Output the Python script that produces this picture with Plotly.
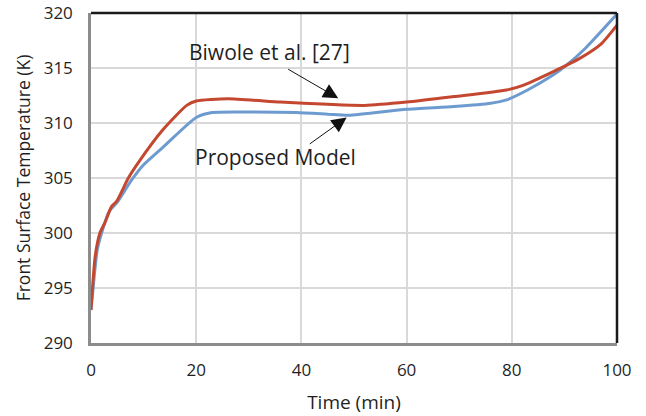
import plotly.graph_objects as go

t_biwole = [0, 0.8, 1.7, 2.7, 3.9, 4.9, 7.1, 9.0, 13.7, 18.2, 20, 26, 36, 45, 52, 60, 69, 79, 82, 88, 93, 97, 100]
T_biwole = [293.0, 297.9, 300.0, 301.0, 302.4, 302.9, 305.0, 306.4, 309.4, 311.6, 312.0, 312.2, 311.9, 311.7,
            311.6, 311.9, 312.4, 313.0, 313.4, 314.7, 315.9, 317.2, 318.9]

t_proposed = [0, 0.6, 1.2, 2.2, 3.5, 5, 7.7, 10, 13.7, 20, 23, 30, 39, 45, 49, 60, 69, 76, 79, 83, 88, 90, 94, 100]
T_proposed = [293.0, 296.0, 298.5, 300.3, 302.0, 302.8, 304.8, 306.2, 307.8, 310.5, 310.95, 311.0, 310.95, 310.8,
              310.7, 311.25, 311.5, 311.8, 312.1, 313.0, 314.4, 315.1, 316.8, 319.9]

x_ticks = [0, 20, 40, 60, 80, 100]
y_ticks = [290, 295, 300, 305, 310, 315, 320]

FONT = "Open Sans"
TXT = "#1f1f1f"

fig = go.Figure()
fig.add_trace(go.Scatter(x=t_proposed, y=T_proposed, mode="lines", name="Proposed Model",
                         line=dict(color="#6E9BCF", width=3, shape="spline", smoothing=0.6)))
fig.add_trace(go.Scatter(x=t_biwole, y=T_biwole, mode="lines", name="Biwole et al. [27]",
                         line=dict(color="#C4482F", width=3, shape="spline", smoothing=0.6)))

# labels
fig.add_annotation(x=34.0, y=316.45, text="Biwole et al. [27]", showarrow=False,
                   font=dict(family=FONT, size=21, color=TXT))
fig.add_annotation(x=35.0, y=306.9, text="Proposed Model", showarrow=False,
                   font=dict(family=FONT, size=21, color=TXT))
# arrows
fig.add_annotation(x=47.0, y=312.25, ax=37.2, ay=314.97, axref="x", ayref="y", xref="x", yref="y",
                   text="", showarrow=True, arrowhead=2, arrowsize=3, arrowwidth=1, arrowcolor="#111")
fig.add_annotation(x=48.6, y=310.5, ax=41.3, ay=308.0, axref="x", ayref="y", xref="x", yref="y",
                   text="", showarrow=True, arrowhead=2, arrowsize=3, arrowwidth=1, arrowcolor="#111")

# frame: top/right black
fig.add_shape(type="line", xref="paper", yref="paper", x0=0, x1=1, y0=1, y1=1,
              line=dict(color="#1a1a1a", width=2.5))
fig.add_shape(type="line", xref="paper", yref="paper", x0=1, x1=1, y0=0, y1=1,
              line=dict(color="#1a1a1a", width=2.5))

fig.update_layout(
    width=646, height=416,
    margin=dict(l=91, r=29, t=13, b=73, autoexpand=False),
    paper_bgcolor="white", plot_bgcolor="white",
    showlegend=False,
    font=dict(family=FONT, color=TXT, size=16),
    xaxis=dict(range=[0, 100], tickvals=x_ticks, ticktext=[str(v) for v in x_ticks], automargin=False,
               showgrid=True, gridcolor="#d9d9d9", gridwidth=1.5,
               showline=True, linecolor="#8c8c8c", linewidth=2.5, zeroline=False,
               ticks="", ticklabelstandoff=10, tickfont=dict(size=17, family=FONT, color=TXT),
               title=dict(text="Time (min)", font=dict(size=19, family=FONT, color=TXT), standoff=16)),
    yaxis=dict(range=[290, 320], tickvals=y_ticks, ticktext=[str(v) for v in y_ticks], automargin=False,
               showgrid=True, gridcolor="#d9d9d9", gridwidth=1.5,
               showline=True, linecolor="#8c8c8c", linewidth=2.5, zeroline=False,
               ticks="", ticklabelstandoff=12, tickfont=dict(size=17, family=FONT, color=TXT),
               title=dict(text="Front Surface Temperature (K)", font=dict(size=17.5, family=FONT, color=TXT),
                          standoff=9)),
)

fig.write_html("out.html")
